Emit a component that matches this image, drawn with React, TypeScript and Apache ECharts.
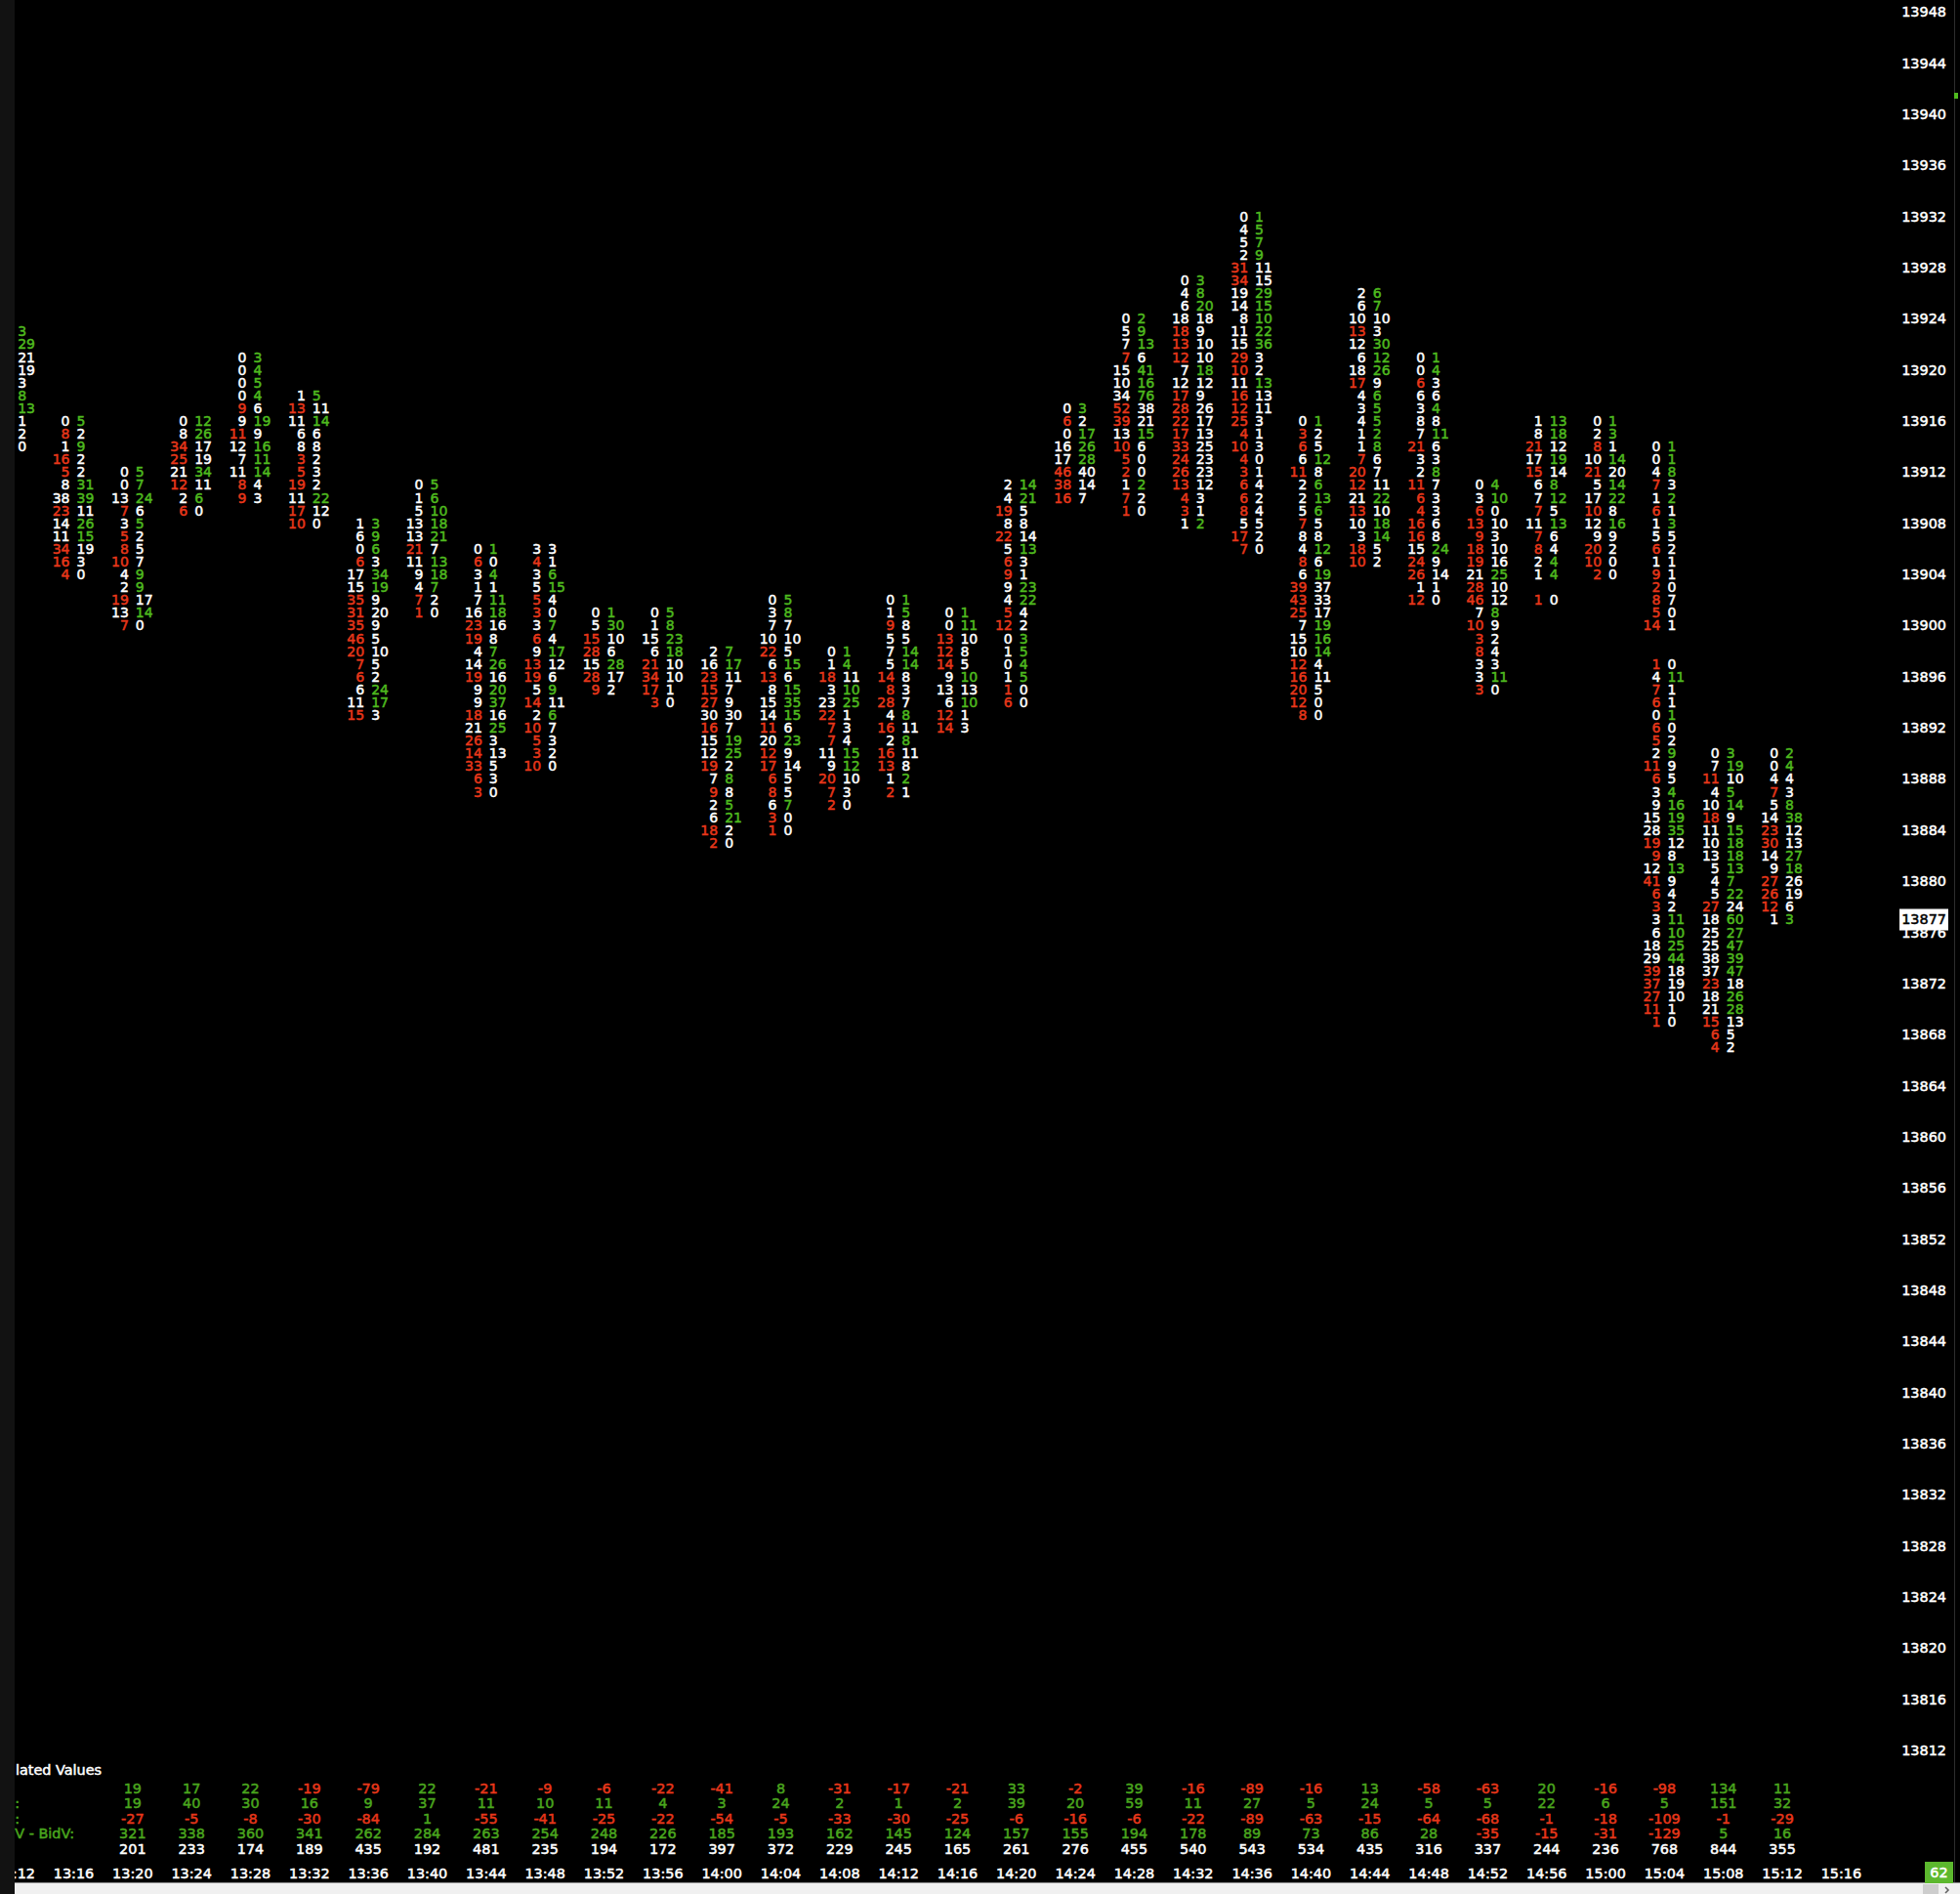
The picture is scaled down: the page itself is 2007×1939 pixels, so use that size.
import React, { useEffect, useRef } from "react";
import * as echarts from "echarts";

const times = ["13:12","13:16","13:20","13:24","13:28","13:32","13:36","13:40","13:44","13:48","13:52","13:56","14:00","14:04","14:08","14:12","14:16","14:20","14:24","14:28","14:32","14:36","14:40","14:44","14:48","14:52","14:56","15:00","15:04","15:08","15:12","15:16"];

// price of the highest row of each footprint bar
const topPrices = [13923,13916,13912,13916,13921,13918,13908,13911,13906,13906,13901,13901,13898,13902,13898,13902,13901,13911,13917,13924,13927,13932,13916,13926,13921,13911,13916,13916,13914,13890,13890];

// one string per bar, one token per price row, top to bottom. "*" marks an imbalanced cell, "_" an empty row.
const bidRows = [
  "",
  "0 8* 1 16* 5* 8 38 23* 14 11 34* 16* 4*",
  "0 0 13 7* 3 5* 8* 10* 4 2 19* 13 7*",
  "0 8 34* 25* 21 12* 2 6*",
  "0 0 0 0 9* 9 11* 12 7 11 8* 9*",
  "1 13* 11 6 8 3* 5* 19* 11 17* 10*",
  "1 6 0 6* 17 15 35* 31* 35* 46* 20* 7* 6* 6 11 15*",
  "0 1 5 13 13 21* 11 9 4 7* 1*",
  "0 6* 3 1 7 16 23* 19* 4 14 19* 9 9 18* 21 26* 14* 33* 6* 3*",
  "3 4* 3 5 5* 3* 3 6* 9 13* 19* 5 14* 2 10* 5* 3* 10*",
  "0 5 15* 28* 15 28* 9*",
  "0 1 15 6 21* 34* 17* 3*",
  "2 16 23* 15* 27* 30 16* 15 12 19* 7 9* 2 6 18* 2*",
  "0 3 7 10 22* 6 13* 8 15 14 11* 20 12* 17* 6* 8* 6 3* 1*",
  "0 1 18* 3 23 22* 7* 7* 11 9 20* 7* 2*",
  "0 1 9* 5 7 5 14* 8* 28* 4 16* 2 16* 13* 1 2*",
  "0 0 13* 12* 14* 9 13 6 12* 14*",
  "2 4 19* 8 22* 5 6* 9* 9 4 5* 12* 0 1 0 1 1* 6*",
  "0 6* 0 16 17 46* 38* 16*",
  "0 5 7 7* 15 10 34 52* 39* 13 10* 5* 2* 1 7* 1*",
  "0 4 6 18 18* 13* 12* 7 12 17* 28* 22* 17* 33* 24* 26* 13* 4* 3* 1",
  "0 4 5 2 31* 34* 19 14 8 11 15 29* 10* 11 16* 12* 25* 4* 10* 4* 3* 6* 6* 8* 5 17* 7*",
  "0 3* 6* 6 11* 2 2 5 7* 8 4 8* 6 39* 43* 25* 7 15 10 12* 16* 20* 12* 8*",
  "2 6 10 13* 12 6 18 17* 4 3 4 1 1 7* 20* 12* 21 13* 10 3 18* 10*",
  "0 0 6* 6 3 8 7 21* 3 2 11* 6* 4* 16* 16* 15 24* 26* 1 12*",
  "0 3 6* 13* 9* 18* 19* 21 28* 46* 7 10* 3* 8* 3 3 3*",
  "1 8 21* 17 15* 6 7 7* 11 7* 8* 2 1 _ 1*",
  "0 2 8* 10 21* 5 17 10* 12 9 20* 10* 2*",
  "0 0 4 7* 1 6* 1 5 6* 1 9* 2* 8* 5* 14* _ _ 1* 4 7* 6* 0 6* 5* 2 11* 6* 3 9 15 28 19* 9* 12 41* 6* 3* 3 6 18 29 39* 37* 27* 11* 1*",
  "0 7 11* 4 10 18* 11 10 13 5 4 5 27* 18 25 25 38 37 23* 18 21 15* 6* 4*",
  "0 0 4 7* 5 14 23* 30* 14 9 27* 26* 12* 1",
];
const askRows = [
  "3* 29* 21 19 3 8* 13* 1 2 0",
  "5* 2 9* 2 2 31* 39* 11 26* 15* 19 3 0",
  "5* 7* 24* 6 5* 2 5 7 9* 9* 17 14* 0",
  "12* 26* 17 19 34* 11 6* 0",
  "3* 4* 5* 4* 6 19* 9 16* 11* 14* 4 3",
  "5* 11 14* 6 8 2 3 2 22* 12 0",
  "3* 9* 6* 3 34* 19* 9 20 9 5 10 5 2 24* 17* 3",
  "5* 6* 10* 18* 21* 7 13* 18* 7* 2 0",
  "1* 0 4* 1 11* 18* 16 8 7* 26* 16 20* 37* 16 25* 3 13 5 3 0",
  "3 1 6* 15* 4 0 7* 4 17* 12 6 9* 11 6* 7 3 2 0",
  "1* 30* 10 6 28* 17 2",
  "5* 8* 23* 18* 10 10 1 0",
  "7* 17* 11 7 9 30 7 19* 25* 2 8* 8 5* 21* 2 0",
  "5* 8* 7 10 5 15* 6 15* 35* 15* 6 23* 9 14 5 5 7* 0 0",
  "1* 4* 11 10* 25* 1 3 4 15* 12* 10 3 0",
  "1* 5* 8 5 14* 14* 8 3 7 8* 11 8* 11 8 2* 1",
  "1* 11* 10 8 5 10* 13 10* 1 3",
  "14* 21* 5 8 14 13* 3 1 23* 22* 4 2 3* 5* 4* 5* 0 0",
  "3* 2 17* 26* 28* 40 14 7",
  "2* 9* 13* 6 41* 16* 76* 38 21 15* 6 0 0 2* 2 0",
  "3* 8* 20* 18 9 10 10 18* 12 9 26 17 13 25 23 23 12 3 1 2*",
  "1* 5* 7* 9* 11 15 29* 15* 10* 22* 36* 3 2 13* 13 11 3 1 3 0 1 4 2 4 5 2 0",
  "1* 2 5 12* 8 6* 13* 6* 5 8 12* 6 19* 37 33 17 19* 16* 14* 4 11 5 0 0",
  "6* 7* 10 3 30* 12* 26* 9 6* 5* 5* 2* 8* 6 7 11 22* 10 18* 14* 5 2",
  "1* 4* 3 6 4* 8 11* 6 3 8* 7 3 3 6 8 24* 9 14 1 0",
  "4* 10* 0 10 3 10 16 25* 10 12 8* 9 2 4 3 11* 0",
  "13* 18* 12 19* 14 8* 12* 5 13* 6 4 4* 4* _ 0",
  "1* 3* 1 14* 20 14* 22* 8 16* 9 2 0 0",
  "1* 1* 8* 3 2* 1 3* 5 2 1 1 0 7 0 1 _ _ 0 11* 1 1 1* 0 2 9* 9 5 4* 16* 19* 35* 12 8 13* 9 4 2 11* 10* 25* 44* 18 19 10 1 0",
  "3* 19* 10 5* 14* 9 15* 18* 18* 13* 7* 22* 24 60* 27* 47* 39* 47* 18 26* 28* 13 5 2",
  "2* 4* 4 3 8* 38* 12 13 27* 18* 26 19 6 3*",
];

const deltaRow = [19,17,22,-19,-79,22,-21,-9,-6,-22,-41,8,-31,-17,-21,33,-2,39,-16,-89,-16,13,-58,-63,20,-16,-98,134,11];
const maxDeltaRow = [19,40,30,16,9,37,11,10,11,4,3,24,2,1,2,39,20,59,11,27,5,24,5,5,22,6,5,151,32];
const minDeltaRow = [-27,-5,-8,-30,-84,1,-55,-41,-25,-22,-54,-5,-33,-30,-25,-6,-16,-6,-22,-89,-63,-15,-64,-68,-1,-18,-109,-1,-29];
const cumDeltaRow = [321,338,360,341,262,284,263,254,248,226,185,193,162,145,124,157,155,194,178,89,73,86,28,-35,-15,-31,-129,5,16];
const volumeRow = [201,233,174,189,435,192,481,235,194,172,397,372,229,245,165,261,276,455,540,543,534,435,316,337,244,236,768,844,355];
const tableFirstColumn = 2;

const lastPrice = 13877;
const priceMin = 13812;
const priceMax = 13948;

const WHITE = "#ffffff";
const RED = "#e8371a";
const GREEN = "#4fba1f";
const TABLE_GREEN = "#4aa61e";
const FONT = '14px "DejaVu Sans"';
const FONT_AXIS = '14.4px "DejaVu Sans"';
const STROKE = 0.5;

const parseCells = (rows: string[], side: number) => {
  const out: number[][] = [];
  rows.forEach((row, col) => {
    if (!row) return;
    row.split(" ").forEach((tok, i) => {
      if (tok === "_") return;
      const flagged = tok.endsWith("*");
      out.push([col, topPrices[col] - i, parseInt(tok, 10), side, flagged ? 1 : 0]);
    });
  });
  return out;
};

const cells = [...parseCells(bidRows, 0), ...parseCells(askRows, 1)];

const tableRows = [deltaRow, maxDeltaRow, minDeltaRow, cumDeltaRow, volumeRow];
const tableCells: number[][] = [];
tableRows.forEach((row, r) => {
  row.forEach((v, i) => tableCells.push([i + tableFirstColumn, r, v]));
});

const GRID_LEFT = 15.2;
const GRID_WIDTH = 1870.2;

const label = (text: string, x: number, y: number, fill: string, align: string, font = FONT_AXIS) => ({
  type: "text", z: 90, x, y,
  style: { text, fill, stroke: fill, lineWidth: STROKE, font, align, verticalAlign: "middle" },
});

export default function App() {
  const ref = useRef<HTMLDivElement>(null);
  useEffect(() => {
    const chart = echarts.init(ref.current!, undefined, { renderer: "svg" });
    chart.setOption({
      animation: false,
      backgroundColor: "#000000",
      grid: [
        { left: GRID_LEFT, width: GRID_WIDTH, top: 12.2, height: 1780, outerBoundsMode: "none" },
        { left: GRID_LEFT, width: GRID_WIDTH, top: 1823, height: 77.5, outerBoundsMode: "none" },
      ],
      xAxis: [
        { type: "category", gridIndex: 0, data: times, boundaryGap: false, show: false },
        {
          type: "category", gridIndex: 1, data: times, boundaryGap: false,
          axisLine: { show: false }, axisTick: { show: false },
          axisLabel: {
            interval: 0, color: WHITE, fontFamily: "DejaVu Sans", fontSize: 14.4, margin: 10,
            textBorderColor: WHITE, textBorderWidth: STROKE,
          },
        },
      ],
      yAxis: [
        {
          type: "value", gridIndex: 0, position: "right", min: priceMin, max: priceMax, interval: 4,
          axisLine: { show: false }, axisTick: { show: false }, splitLine: { show: false },
          axisLabel: {
            color: WHITE, align: "right", margin: 107.6,
            fontFamily: "DejaVu Sans", fontSize: 14.4,
            textBorderColor: WHITE, textBorderWidth: STROKE,
            formatter: (v: number) => String(v),
          },
        },
        { type: "category", gridIndex: 1, inverse: true, data: ["0", "1", "2", "3", "4"], show: false },
      ],
      series: [
        {
          type: "custom",
          xAxisIndex: 0, yAxisIndex: 0,
          data: cells,
          encode: { x: 0, y: 1 },
          clip: false, silent: true, progressive: 0, z: 5,
          renderItem: (_p: any, api: any) => {
            const pt = api.coord([api.value(0), api.value(1)]);
            const side = api.value(3);
            const flagged = api.value(4);
            const color = flagged ? (side === 0 ? RED : GREEN) : WHITE;
            return {
              type: "text",
              x: pt[0] + (side === 0 ? -4 : 3),
              y: pt[1],
              style: {
                text: String(api.value(2)),
                fill: color, stroke: color, lineWidth: STROKE,
                font: FONT,
                align: side === 0 ? "right" : "left",
                verticalAlign: "middle",
              },
            };
          },
        },
        {
          type: "custom",
          xAxisIndex: 1, yAxisIndex: 1,
          data: tableCells,
          encode: { x: 0, y: 1 },
          clip: false, silent: true, progressive: 0, z: 5,
          renderItem: (_p: any, api: any) => {
            const r = api.value(1);
            const v = api.value(2);
            const pt = api.coord([api.value(0), r]);
            const color = r === 4 ? WHITE : v < 0 ? RED : TABLE_GREEN;
            return {
              type: "text",
              x: pt[0],
              y: pt[1],
              style: {
                text: String(v),
                fill: color, stroke: color, lineWidth: STROKE,
                font: FONT_AXIS,
                align: "center",
                verticalAlign: "middle",
              },
            };
          },
        },
        {
          type: "custom",
          xAxisIndex: 0, yAxisIndex: 0,
          data: [[0, lastPrice]],
          encode: { y: 1 },
          clip: false, silent: true, z: 20,
          renderItem: (_p: any, api: any) => {
            const y = api.coord([0, api.value(1)])[1];
            return {
              type: "group",
              children: [
                { type: "rect", shape: { x: 1945, y: y - 11, width: 50, height: 22 }, style: { fill: WHITE } },
                {
                  type: "text", x: 1993, y,
                  style: { text: String(api.value(1)), fill: "#000000", stroke: "#000000", lineWidth: STROKE, font: FONT_AXIS, align: "right", verticalAlign: "middle" },
                },
              ],
            };
          },
        },
      ],
      graphic: [
        label("lated Values", 16, 1812, WHITE, "left"),
        label(":", 20, 1846, TABLE_GREEN, "right"),
        label(":", 20, 1862, TABLE_GREEN, "right"),
        label("V - BidV:", 76, 1877, TABLE_GREEN, "right"),
        { type: "rect", z: 100, shape: { x: 0, y: 0, width: 15, height: 1939 }, style: { fill: "#121212" } },
        { type: "line", z: 100, shape: { x1: 2001.5, y1: 0, x2: 2001.5, y2: 1928 }, style: { stroke: "#2e2e2e", lineWidth: 1 } },
        { type: "rect", z: 100, shape: { x: 2001, y: 95, width: 4, height: 6 }, style: { fill: GREEN } },
        { type: "rect", z: 100, shape: { x: 15, y: 1928, width: 1992, height: 11 }, style: { fill: "#f0f0f0" } },
        { type: "line", z: 100, shape: { x1: 15, y1: 1927.5, x2: 2007, y2: 1927.5 }, style: { stroke: "#8a8a8a", lineWidth: 1 } },
        { type: "rect", z: 100, shape: { x: 1969, y: 1929, width: 16, height: 10 }, style: { fill: "#cdcdcd" } },
        { type: "polyline", z: 100, shape: { points: [[1992, 1932], [1995, 1935], [1992, 1938]] }, style: { stroke: "#606060", lineWidth: 1.5, fill: "none" } },
        { type: "rect", z: 100, shape: { x: 1971, y: 1906, width: 29, height: 22 }, style: { fill: "#5cb82e" } },
        { ...label("62", 1985.5, 1917, WHITE, "center"), z: 101 },
      ],
    });
    return () => chart.dispose();
  }, []);
  return <div ref={ref} style={{ position: "absolute", left: 0, top: 0, width: 2007, height: 1939 }} />;
}
